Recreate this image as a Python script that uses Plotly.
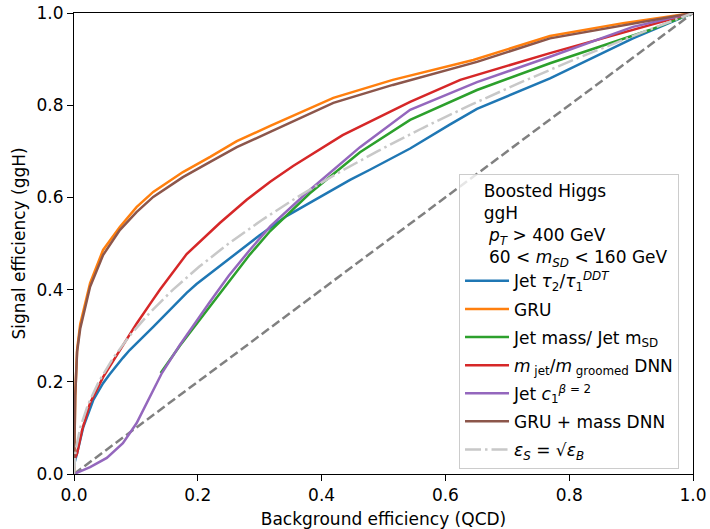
import plotly.graph_objects as go

# ---- data ----
tau_x = [0, 0.005, 0.015, 0.031, 0.047, 0.058, 0.079, 0.09, 0.128, 0.166, 0.182, 0.198, 0.236, 0.273, 0.3, 0.344, 0.381, 0.446, 0.478, 0.543, 0.607, 0.651, 0.769, 0.903, 1.0]
tau_y = [0.02, 0.045, 0.102, 0.16, 0.197, 0.217, 0.252, 0.269, 0.319, 0.372, 0.393, 0.412, 0.452, 0.49, 0.518, 0.56, 0.588, 0.638, 0.66, 0.706, 0.758, 0.792, 0.858, 0.945, 1.0]

gru_x = [0, 0.0005, 0.002, 0.005, 0.01, 0.026, 0.047, 0.074, 0.101, 0.128, 0.176, 0.22, 0.263, 0.317, 0.419, 0.515, 0.645, 0.769, 0.887, 1.0]
gru_y = [0, 0.1, 0.17, 0.27, 0.325, 0.414, 0.486, 0.536, 0.579, 0.612, 0.655, 0.688, 0.722, 0.755, 0.816, 0.855, 0.898, 0.95, 0.978, 1.0]

mass_x = [0.14, 0.171, 0.209, 0.241, 0.284, 0.317, 0.381, 0.462, 0.543, 0.651, 0.769, 0.93, 1.0]
mass_y = [0.219, 0.278, 0.345, 0.4, 0.476, 0.527, 0.609, 0.698, 0.768, 0.833, 0.891, 0.963, 1.0]

dnn_x = [0, 0.005, 0.013, 0.026, 0.047, 0.074, 0.101, 0.126, 0.139, 0.182, 0.236, 0.279, 0.317, 0.354, 0.434, 0.543, 0.624, 0.769, 0.903, 1.0]
dnn_y = [0.03, 0.045, 0.095, 0.154, 0.21, 0.269, 0.326, 0.375, 0.4, 0.477, 0.545, 0.595, 0.634, 0.668, 0.735, 0.807, 0.855, 0.913, 0.963, 1.0]

c1_x = [0, 0.026, 0.053, 0.079, 0.101, 0.123, 0.142, 0.171, 0.198, 0.22, 0.25, 0.284, 0.317, 0.381, 0.462, 0.543, 0.651, 0.769, 0.903, 1.0]
c1_y = [0, 0.015, 0.035, 0.067, 0.11, 0.167, 0.219, 0.28, 0.333, 0.374, 0.43, 0.486, 0.537, 0.616, 0.709, 0.79, 0.85, 0.905, 0.97, 1.0]

grum_x = [0, 0.0005, 0.002, 0.005, 0.01, 0.026, 0.047, 0.074, 0.101, 0.128, 0.176, 0.22, 0.263, 0.317, 0.419, 0.515, 0.651, 0.769, 0.887, 1.0]
grum_y = [0, 0.1, 0.17, 0.265, 0.315, 0.406, 0.475, 0.529, 0.568, 0.601, 0.644, 0.677, 0.709, 0.742, 0.805, 0.844, 0.894, 0.945, 0.973, 1.0]

sqrt_x = [0, 0.0025, 0.01, 0.0225, 0.04, 0.0625, 0.09, 0.1225, 0.16, 0.2025, 0.25, 0.3025, 0.36, 0.4225, 0.49, 0.5625, 0.64, 0.7225, 0.81, 0.9025, 1.0]
sqrt_y = [0, 0.05, 0.1, 0.15, 0.2, 0.25, 0.3, 0.35, 0.4, 0.45, 0.5, 0.55, 0.6, 0.65, 0.7, 0.75, 0.8, 0.85, 0.9, 0.95, 1.0]

diag_x = [0, 1]
diag_y = [0, 1]

tick_vals = [0, 0.2, 0.4, 0.6, 0.8, 1.0]
tick_text = ["0.0", "0.2", "0.4", "0.6", "0.8", "1.0"]

FONT = "DejaVu Sans"
FS = 17

fig = go.Figure()
fig.add_trace(go.Scatter(x=diag_x, y=diag_y, mode="lines", showlegend=False,
                         line=dict(color="#808080", width=2.5, dash="9px,4px")))
series = [
    (tau_x, tau_y, "#1f77b4", "Jet <i>τ</i><sub>2</sub>/<i>τ</i><sub>1</sub><sup><i>DDT</i></sup>", "solid"),
    (gru_x, gru_y, "#ff7f0e", "GRU", "solid"),
    (mass_x, mass_y, "#2ca02c", "Jet mass/ Jet m<sub>SD</sub>", "solid"),
    (dnn_x, dnn_y, "#d62728", "<i>m</i><sub> jet</sub>/<i>m</i><sub> groomed</sub> DNN", "solid"),
    (c1_x, c1_y, "#9467bd", "Jet <i>c</i><sub>1</sub><sup><i>β</i> = 2</sup>", "solid"),
    (grum_x, grum_y, "#8c564b", "GRU + mass DNN", "solid"),
    (sqrt_x, sqrt_y, "#c8c8c8", "<i>ε</i><sub><i>S</i></sub> = √<i>ε</i><sub><i>B</i></sub>", "16px,4px,2.5px,4px"),
]
for i, (xs, ys, col, name, dash) in enumerate(series):
    fig.add_trace(go.Scatter(x=xs, y=ys, mode="lines", name=name, legendgroup=f"g{i}",
                             line=dict(color=col, width=2.5, dash=dash)))

axis_common = dict(range=[0, 1], tickvals=tick_vals, ticktext=tick_text, showgrid=False, zeroline=False,
                   showline=True, linecolor="black", linewidth=1, mirror=True, ticks="outside",
                   ticklen=6, tickcolor="black", automargin=False,
                   tickfont=dict(family=FONT, size=FS, color="black"))
fig.update_xaxes(**axis_common, title=dict(text="Background efficiency (QCD)", font=dict(family=FONT, size=FS, color="black"), standoff=8))
fig.update_yaxes(**axis_common, title=dict(text="Signal efficiency (ggH)", font=dict(family=FONT, size=FS, color="black"), standoff=6))

IND = "&nbsp;" * 4
legend_title = (IND + "Boosted Higgs<br>" + IND + "ggH<br>" + IND + "&nbsp;<i>p</i><sub><i>T</i></sub> &gt; 400 GeV<br>"
                + IND + "&nbsp;60 &lt; <i>m</i><sub><i>SD</i></sub> &lt; 160 GeV")

fig.update_layout(
    width=710, height=529,
    margin=dict(l=74, r=17, t=13, b=55),
    paper_bgcolor="white", plot_bgcolor="white",
    font=dict(family=FONT, size=FS, color="black"),
    legend=dict(x=0.622, y=0.651, xanchor="left", yanchor="top",
                bgcolor="rgba(255,255,255,0.8)", bordercolor="#cccccc", borderwidth=1,
                font=dict(family=FONT, size=FS, color="black"),
                itemwidth=44, tracegroupgap=3,
                title=dict(text=legend_title, font=dict(family=FONT, size=FS, color="black"))),
)
fig.write_html("out.html")
